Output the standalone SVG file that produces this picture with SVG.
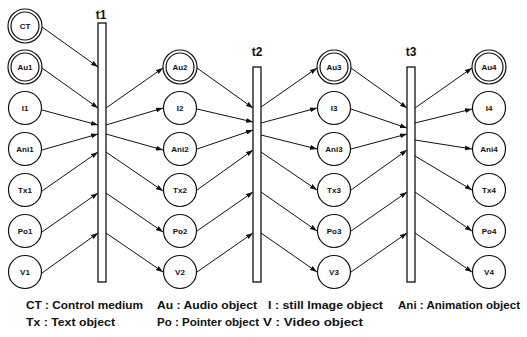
<svg xmlns="http://www.w3.org/2000/svg" width="527" height="337" viewBox="0 0 527 337">
  <style>
    .obj { fill: #fff; stroke: #111; stroke-width: 1.2; }
    .bar { fill: #fff; stroke: #111; stroke-width: 1.3; }
    .lbl { font-family: "Liberation Sans", Arial, sans-serif; font-weight: bold; font-size: 8px; fill: #111; text-anchor: middle; }
    .tlbl { font-family: "Liberation Sans", Arial, sans-serif; font-weight: bold; font-size: 12px; fill: #111; text-anchor: middle; }
    .leg { font-family: "Liberation Sans", Arial, sans-serif; font-weight: bold; font-size: 10px; fill: #111; }
    .arc { fill: none; stroke: #111; stroke-width: 1; marker-end: url(#head); }
  </style>
  <defs>
    <marker id="head" markerUnits="userSpaceOnUse" markerWidth="7" markerHeight="5" viewBox="0 0 7 5" refX="7" refY="2.5" orient="auto">
      <path d="M0,0 L7,2.5 L0,5 z" fill="#111"/>
    </marker>
  </defs>

  <rect width="527" height="337" fill="#fff"/>

  <!-- connectors -->
  <g id="connectors">
    <!-- column 1 into t1 -->
    <line class="arc" x1="42" y1="27" x2="98" y2="67"/>
    <line class="arc" x1="42" y1="68" x2="98" y2="108"/>
    <line class="arc" x1="42" y1="110" x2="98" y2="125"/>
    <line class="arc" x1="42" y1="150" x2="98" y2="134"/>
    <line class="arc" x1="42" y1="191" x2="98" y2="152"/>
    <line class="arc" x1="42" y1="232" x2="98" y2="193"/>
    <line class="arc" x1="42" y1="273" x2="98" y2="233"/>
    <!-- t1 out to column 2 -->
    <line class="arc" x1="106" y1="108" x2="163" y2="68"/>
    <line class="arc" x1="106" y1="125" x2="163" y2="108"/>
    <line class="arc" x1="106" y1="134" x2="163" y2="150"/>
    <line class="arc" x1="106" y1="152" x2="163" y2="191"/>
    <line class="arc" x1="106" y1="193" x2="163" y2="232"/>
    <line class="arc" x1="106" y1="233" x2="163" y2="272"/>
    <!-- column 2 into t2 -->
    <line class="arc" x1="197" y1="68" x2="253" y2="108"/>
    <line class="arc" x1="197" y1="109" x2="253" y2="122"/>
    <line class="arc" x1="197" y1="149" x2="253" y2="130"/>
    <line class="arc" x1="197" y1="190" x2="253" y2="150"/>
    <line class="arc" x1="197" y1="231" x2="253" y2="192"/>
    <line class="arc" x1="197" y1="272" x2="253" y2="233"/>
    <!-- t2 out to column 3 -->
    <line class="arc" x1="261" y1="107" x2="317" y2="68"/>
    <line class="arc" x1="261" y1="123" x2="317" y2="108"/>
    <line class="arc" x1="261" y1="135" x2="317" y2="149"/>
    <line class="arc" x1="261" y1="152" x2="317" y2="190"/>
    <line class="arc" x1="261" y1="192" x2="317" y2="231"/>
    <line class="arc" x1="261" y1="233" x2="317" y2="272"/>
    <!-- column 3 into t3 -->
    <line class="arc" x1="351" y1="68" x2="407" y2="108"/>
    <line class="arc" x1="351" y1="109" x2="407" y2="128"/>
    <line class="arc" x1="351" y1="149" x2="407" y2="134"/>
    <line class="arc" x1="351" y1="190" x2="407" y2="150"/>
    <line class="arc" x1="351" y1="231" x2="407" y2="192"/>
    <line class="arc" x1="351" y1="272" x2="407" y2="233"/>
    <!-- t3 out to column 4 -->
    <line class="arc" x1="415" y1="108" x2="472" y2="68"/>
    <line class="arc" x1="415" y1="123" x2="472" y2="109"/>
    <line class="arc" x1="415" y1="140" x2="472" y2="149"/>
    <line class="arc" x1="415" y1="156" x2="472" y2="190"/>
    <line class="arc" x1="415" y1="192" x2="472" y2="231"/>
    <line class="arc" x1="415" y1="233" x2="472" y2="272"/>
  </g>

  <!-- transitions -->
  <g id="t1">
    <rect class="bar" x="98" y="23" width="8" height="259"/>
    <text class="tlbl" x="101" y="19">t1</text>
  </g>
  <g id="t2">
    <rect class="bar" x="253" y="67" width="8" height="215"/>
    <text class="tlbl" x="257" y="56">t2</text>
  </g>
  <g id="t3">
    <rect class="bar" x="407" y="67" width="8" height="215"/>
    <text class="tlbl" x="411" y="56">t3</text>
  </g>

  <!-- column 1 -->
  <g id="CT"><circle class="obj" cx="25" cy="26" r="17"/><circle class="obj" cx="25" cy="26" r="14"/><text class="lbl" x="25" y="29">CT</text></g>
  <g id="Au1"><circle class="obj" cx="25" cy="67" r="17"/><circle class="obj" cx="25" cy="67" r="14"/><text class="lbl" x="25" y="70">Au1</text></g>
  <g id="I1"><circle class="obj" cx="25" cy="108" r="16.5"/><text class="lbl" x="25" y="111">I1</text></g>
  <g id="Ani1"><circle class="obj" cx="25" cy="149" r="16.5"/><text class="lbl" x="25" y="152">Ani1</text></g>
  <g id="Tx1"><circle class="obj" cx="25" cy="190" r="16.5"/><text class="lbl" x="25" y="193">Tx1</text></g>
  <g id="Po1"><circle class="obj" cx="25" cy="231" r="16.5"/><text class="lbl" x="25" y="234">Po1</text></g>
  <g id="V1"><circle class="obj" cx="25" cy="272" r="16.5"/><text class="lbl" x="25" y="275">V1</text></g>

  <!-- column 2 -->
  <g id="Au2"><circle class="obj" cx="180" cy="67" r="17"/><circle class="obj" cx="180" cy="67" r="14"/><text class="lbl" x="180" y="70">Au2</text></g>
  <g id="I2"><circle class="obj" cx="180" cy="108" r="16.5"/><text class="lbl" x="180" y="111">I2</text></g>
  <g id="Ani2"><circle class="obj" cx="180" cy="149" r="16.5"/><text class="lbl" x="180" y="152">Ani2</text></g>
  <g id="Tx2"><circle class="obj" cx="180" cy="190" r="16.5"/><text class="lbl" x="180" y="193">Tx2</text></g>
  <g id="Po2"><circle class="obj" cx="180" cy="231" r="16.5"/><text class="lbl" x="180" y="234">Po2</text></g>
  <g id="V2"><circle class="obj" cx="180" cy="272" r="16.5"/><text class="lbl" x="180" y="275">V2</text></g>

  <!-- column 3 -->
  <g id="Au3"><circle class="obj" cx="334" cy="67" r="17"/><circle class="obj" cx="334" cy="67" r="14"/><text class="lbl" x="334" y="70">Au3</text></g>
  <g id="I3"><circle class="obj" cx="334" cy="108" r="16.5"/><text class="lbl" x="334" y="111">I3</text></g>
  <g id="Ani3"><circle class="obj" cx="334" cy="149" r="16.5"/><text class="lbl" x="334" y="152">Ani3</text></g>
  <g id="Tx3"><circle class="obj" cx="334" cy="190" r="16.5"/><text class="lbl" x="334" y="193">Tx3</text></g>
  <g id="Po3"><circle class="obj" cx="334" cy="231" r="16.5"/><text class="lbl" x="334" y="234">Po3</text></g>
  <g id="V3"><circle class="obj" cx="334" cy="272" r="16.5"/><text class="lbl" x="334" y="275">V3</text></g>

  <!-- column 4 -->
  <g id="Au4"><circle class="obj" cx="489" cy="67" r="17"/><circle class="obj" cx="489" cy="67" r="14"/><text class="lbl" x="489" y="70">Au4</text></g>
  <g id="I4"><circle class="obj" cx="489" cy="108" r="16.5"/><text class="lbl" x="489" y="111">I4</text></g>
  <g id="Ani4"><circle class="obj" cx="489" cy="149" r="16.5"/><text class="lbl" x="489" y="152">Ani4</text></g>
  <g id="Tx4"><circle class="obj" cx="489" cy="190" r="16.5"/><text class="lbl" x="489" y="193">Tx4</text></g>
  <g id="Po4"><circle class="obj" cx="489" cy="231" r="16.5"/><text class="lbl" x="489" y="234">Po4</text></g>
  <g id="V4"><circle class="obj" cx="489" cy="272" r="16.5"/><text class="lbl" x="489" y="275">V4</text></g>

  <!-- legend -->
  <g id="legend">
    <text class="leg" x="26" y="309" textLength="117" lengthAdjust="spacingAndGlyphs">CT : Control medium</text>
    <text class="leg" x="157" y="309" textLength="100" lengthAdjust="spacingAndGlyphs">Au : Audio object</text>
    <text class="leg" x="268" y="309" textLength="115" lengthAdjust="spacingAndGlyphs">I : still Image object</text>
    <text class="leg" x="398" y="309" textLength="122" lengthAdjust="spacingAndGlyphs">Ani : Animation object</text>
    <text class="leg" x="26" y="326" textLength="89" lengthAdjust="spacingAndGlyphs">Tx : Text object</text>
    <text class="leg" x="157" y="326" textLength="102" lengthAdjust="spacingAndGlyphs">Po : Pointer object</text>
    <text class="leg" x="263" y="326" textLength="100" lengthAdjust="spacingAndGlyphs">V : Video object</text>
  </g>
</svg>
